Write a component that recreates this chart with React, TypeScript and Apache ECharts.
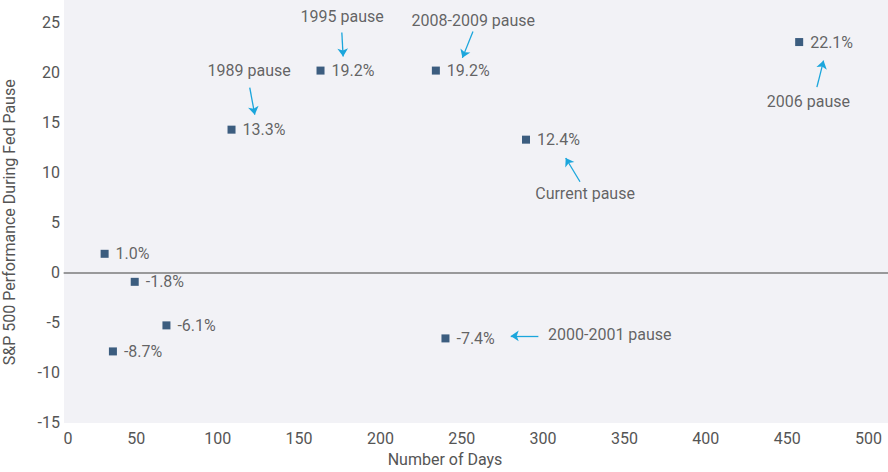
import React, { useEffect, useRef } from "react";
import * as echarts from "echarts";

// Pause episodes: number of days vs S&P 500 performance (plotted position) and printed label
const days = [30.5, 49, 68.5, 35.6, 240, 108.5, 163.2, 234.1, 289.5, 457.4];
const performance = [1.85, -0.95, -5.3, -7.9, -6.6, 14.25, 20.15, 20.15, 13.25, 23.0];
const pointLabels = ["1.0%", "-1.8%", "-6.1%", "-8.7%", "-7.4%", "13.3%", "19.2%", "19.2%", "12.4%", "22.1%"];

// Annotations (data coordinates)
const annotationNames = ["1989 pause", "1995 pause", "2008-2009 pause", "Current pause", "2006 pause", "2000-2001 pause"];
const annotationAt = [
  [119.3, 20.2],
  [176.5, 25.6],
  [257.1, 25.2],
  [325.8, 7.85],
  [463.1, 17.1],
  [341.0, -6.25],
];
const arrowFrom = [
  [119.7, 18.45],
  [176.3, 23.95],
  [256.9, 24.05],
  [322.7, 9.05],
  [468.3, 18.5],
  [297.1, -6.35],
];
const arrowTo = [
  [122.8, 15.75],
  [177.1, 21.55],
  [250.4, 21.42],
  [313.9, 11.42],
  [472.4, 21.15],
  [280.1, -6.35],
];

const xMin = 0;
const xMax = 512;
const xInterval = 50;
const yMin = -15;
const yMax = 27.2;
const yInterval = 5;
const plotLeftDays = 5.3;

export default function App() {
  const ref = useRef<HTMLDivElement>(null);
  useEffect(() => {
    if (!ref.current) return;
    const chart = echarts.init(ref.current, null, { renderer: "svg" });
    const font = "Roboto";
    chart.setOption({
      animation: false,
      backgroundColor: "#ffffff",
      textStyle: { fontFamily: font },
      graphic: [
        {
          type: "rect",
          left: 64,
          top: 0,
          z: -1,
          silent: true,
          shape: { width: 824, height: 423 },
          style: { fill: "#f2f2f6" },
        },
      ],
      grid: { left: 55, right: 0, top: 0, bottom: 49.5, containLabel: false, outerBoundsMode: "none" },
      xAxis: {
        type: "value",
        min: xMin,
        max: xMax,
        interval: xInterval,
        name: "Number of Days",
        nameLocation: "middle",
        nameGap: 28,
        nameTextStyle: { fontFamily: font, fontSize: 16, color: "#555555", padding: [0, 53, 0, 0] },
        axisLine: { show: false },
        axisTick: { show: false },
        splitLine: { show: false },
        axisLabel: {
          showMaxLabel: false,
          fontFamily: font,
          fontSize: 16,
          color: "#555555",
          margin: 8,
          formatter: (v: number) => (v === xMin ? "{first|" + v + "}" : String(v)),
          rich: { first: { fontFamily: font, fontSize: 16, color: "#555555", padding: [0, 0, 0, 26] } },
        },
      },
      yAxis: {
        type: "value",
        min: yMin,
        max: yMax,
        interval: yInterval,
        name: "S&P 500 Performance During Fed Pause",
        nameLocation: "middle",
        nameGap: 38,
        nameTextStyle: { fontFamily: font, fontSize: 16, color: "#555555", padding: [0, 22, 0, 0] },
        axisLine: { show: false },
        axisTick: { show: false },
        splitLine: { show: false },
        axisLabel: { showMaxLabel: false, fontFamily: font, fontSize: 16, color: "#555555", margin: -5 },
      },
      series: [
        {
          type: "scatter",
          symbol: "rect",
          symbolSize: 8,
          itemStyle: { color: "#0e3761" },
          data: days.map((d, i) => [d, performance[i]]),
          label: {
            show: true,
            position: "right",
            distance: 7,
            fontFamily: font,
            fontSize: 16,
            color: "#3d3d3d",
            formatter: (p: any) => pointLabels[p.dataIndex],
          },
          markLine: {
            silent: true,
            symbol: "none",
            label: { show: false },
            lineStyle: { color: "#7b7b7b", width: 1.5, type: "solid" },
            data: [[{ coord: [plotLeftDays, 0] }, { coord: [xMax, 0] }]],
          },
          z: 5,
        },
        {
          type: "scatter",
          symbolSize: 0,
          silent: true,
          itemStyle: { color: "transparent" },
          data: annotationAt.map((a) => a),
          label: {
            show: true,
            position: "inside",
            fontFamily: font,
            fontSize: 16,
            color: "#3d3d3d",
            formatter: (p: any) => annotationNames[p.dataIndex],
          },
          markLine: {
            silent: true,
            symbol: ["none", "arrow"],
            symbolSize: 8,
            label: { show: false },
            lineStyle: { color: "#1ba6dc", width: 1.3, type: "solid" },
            data: arrowFrom.map((f, i) => [{ coord: f }, { coord: arrowTo[i] }]),
          },
          z: 4,
        },
      ],
    });
    return () => chart.dispose();
  }, []);
  return (
    <div
      ref={ref}
      style={{ position: "fixed", left: 0, top: 0, width: 888, height: 472, background: "#ffffff" }}
    />
  );
}
